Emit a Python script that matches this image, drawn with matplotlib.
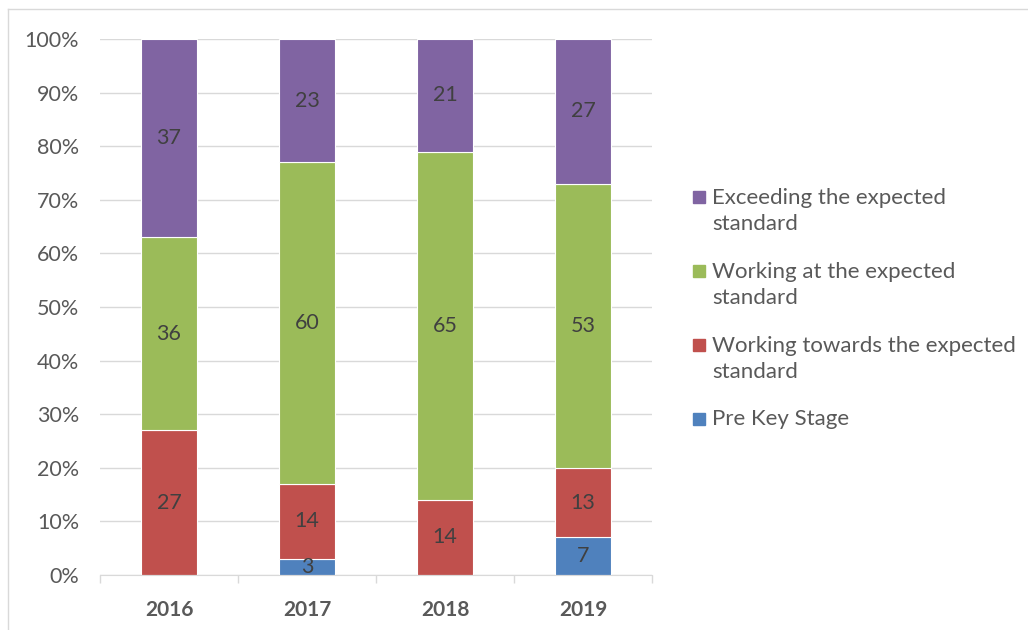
import matplotlib.pyplot as plt
from matplotlib.patches import Rectangle
from matplotlib.lines import Line2D
import numpy as np

plt.rcParams['font.family'] = ['Lato', 'DejaVu Sans']

years = ["2016", "2017", "2018", "2019"]
pre_key_stage = [0, 3, 0, 7]
working_towards = [27, 14, 14, 13]
working_at = [36, 60, 65, 53]
exceeding = [37, 23, 21, 27]

series_names = ["Pre Key Stage",
                "Working towards the expected\nstandard",
                "Working at the expected\nstandard",
                "Exceeding the expected\nstandard"]
series_values = [pre_key_stage, working_towards, working_at, exceeding]
series_colors = ["#4F81BD", "#C0504D", "#9BBB59", "#8064A2"]

text_col = "#595959"
label_col = "#404040"

fig = plt.figure(figsize=(10.28, 6.30), dpi=100)
ax = fig.add_axes([100 / 1028, 55 / 630, 552 / 1028, 536 / 630])

x = np.arange(len(years))
bottom = np.zeros(len(years))
for name, vals, col in zip(series_names, series_values, series_colors):
    vals = np.array(vals, dtype=float)
    ax.bar(x, vals, bottom=bottom, width=0.4, color=col,
           edgecolor="white", linewidth=0.8, zorder=3)
    for xi, b, v in zip(x, bottom, vals):
        if v > 0:
            ax.text(xi, b + v / 2, f"{int(v)}", ha="center", va="center",
                    fontsize=15.5, color=label_col, zorder=4)
    bottom += vals

ax.set_xlim(-0.5, len(years) - 0.5)
ax.set_ylim(0, 100)
ax.set_yticks(np.arange(0, 101, 10))
ax.set_yticklabels([f"{v}%" for v in range(0, 101, 10)])
ax.set_xticks(x)
ax.set_xticklabels(years, fontweight="bold")
ax.set_xticks(np.arange(-0.5, len(years)), minor=True)
ax.tick_params(axis="x", which="major", length=0, labelsize=15,
               labelcolor=text_col, pad=18)
ax.tick_params(axis="x", which="minor", length=6, color="#D9D9D9", width=1)
ax.tick_params(axis="y", length=0, labelsize=15.5, labelcolor=text_col, pad=15)
ax.grid(axis="y", color="#D9D9D9", linewidth=1, zorder=0)
for s in ["left", "right", "top"]:
    ax.spines[s].set_visible(False)
ax.spines["bottom"].set_color("#D9D9D9")
ax.spines["bottom"].set_zorder(5)

# legend, drawn by hand so the square sits on the first line
leg_items = list(zip(series_names, series_colors))[::-1]
leg_first_line = [197, 271, 345, 419]
for (name, col), ty in zip(leg_items, leg_first_line):
    fig.patches.append(Rectangle((693 / 1028, 1 - (ty + 6) / 630), 12 / 1028, 12 / 630,
                                 transform=fig.transFigure, color=col))
    n_lines = name.count("\n") + 1
    cy = ty + 14 * (n_lines - 1)
    fig.text(712 / 1028, 1 - cy / 630, name, ha="left", va="center",
             fontsize=16, color=text_col, linespacing=1.42,
             transform=fig.transFigure)

# outer chart border (top and left edges visible)
fig.add_artist(Line2D([8 / 1028, 1], [1 - 9 / 630, 1 - 9 / 630], color="#D9D9D9",
                      linewidth=1, transform=fig.transFigure))
fig.add_artist(Line2D([8 / 1028, 8 / 1028], [0, 1 - 9 / 630], color="#D9D9D9",
                      linewidth=1, transform=fig.transFigure))

fig.savefig("out.png", dpi=100)
